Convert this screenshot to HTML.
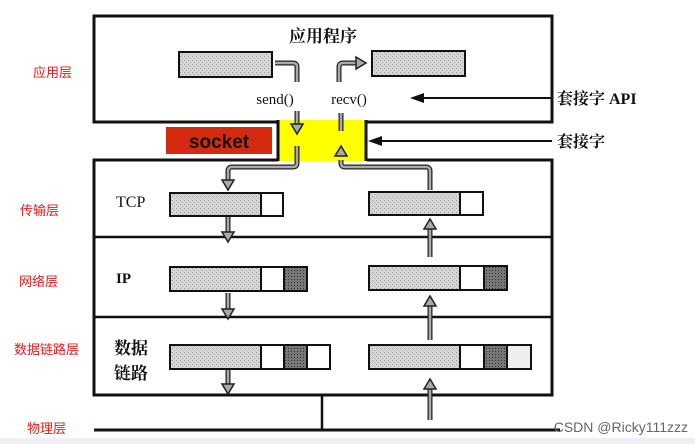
<!DOCTYPE html>
<html><head><meta charset="utf-8"><style>
body{margin:0;width:695px;height:444px;background:#fff;overflow:hidden}
svg{display:block}
.r{font-family:"Liberation Sans","Noto Sans CJK SC",sans-serif;fill:#e02020;font-size:13px}
.b{font-family:"Liberation Serif","Noto Serif CJK SC",serif;fill:#111;font-weight:bold}
</style></head><body>
<svg width="695" height="444" viewBox="0 0 695 444">
<defs>
<pattern id="g" width="4" height="4" patternUnits="userSpaceOnUse"><rect width="4" height="4" fill="#d6d6d6"/><rect width="1" height="1" fill="#999"/><rect x="2" y="2" width="1" height="1" fill="#aaa"/></pattern>
<pattern id="d" width="3" height="3" patternUnits="userSpaceOnUse"><rect width="3" height="3" fill="#777"/><rect width="1" height="1" fill="#333"/></pattern>
</defs>
<rect x="0" y="438" width="695" height="6" fill="#eef0f6"/>
<rect x="278" y="120" width="88" height="41" fill="#ffff00"/>
<path d="M278 122 H94 V16 H552 V122 H367" fill="none" stroke="#111" stroke-width="3"/>
<path d="M278 160 H94 V395 H552 V160 H367" fill="none" stroke="#111" stroke-width="3"/>
<line x1="278" y1="120" x2="278" y2="161" stroke="#111" stroke-width="3"/>
<line x1="366" y1="120" x2="366" y2="161" stroke="#111" stroke-width="3"/>
<line x1="94" y1="237" x2="552" y2="237" stroke="#111" stroke-width="2.5"/>
<line x1="94" y1="317" x2="552" y2="317" stroke="#111" stroke-width="2.5"/>
<line x1="94" y1="430" x2="560" y2="430" stroke="#111" stroke-width="3"/>
<line x1="322" y1="395" x2="322" y2="430" stroke="#111" stroke-width="2.5"/>
<rect x="166" y="127" width="106" height="27" fill="#d42a10"/>
<text x="219" y="148" text-anchor="middle" font-family="Liberation Sans,sans-serif" font-weight="bold" font-size="19" fill="#111">socket</text>
<g stroke="#111" stroke-width="2">
<rect x="179" y="52" width="93" height="25" fill="url(#g)"/>
<rect x="372" y="51" width="93" height="25" fill="url(#g)"/>
<rect x="170" y="193" width="91" height="23" fill="url(#g)"/><rect x="261" y="193" width="22" height="23" fill="#fff"/>
<rect x="369" y="192" width="91" height="23" fill="url(#g)"/><rect x="460" y="192" width="23" height="23" fill="#fff"/>
<rect x="170" y="267" width="91" height="24" fill="url(#g)"/><rect x="261" y="267" width="23" height="24" fill="#fff"/><rect x="284" y="267" width="23" height="24" fill="url(#d)"/>
<rect x="369" y="266" width="91" height="24" fill="url(#g)"/><rect x="460" y="266" width="24" height="24" fill="#fff"/><rect x="484" y="266" width="23" height="24" fill="url(#d)"/>
<rect x="170" y="345" width="91" height="24" fill="url(#g)"/><rect x="261" y="345" width="23" height="24" fill="#fff"/><rect x="284" y="345" width="23" height="24" fill="url(#d)"/><rect x="307" y="345" width="23" height="24" fill="#fff"/>
<rect x="369" y="345" width="91" height="24" fill="url(#g)"/><rect x="460" y="345" width="24" height="24" fill="#fff"/><rect x="484" y="345" width="23" height="24" fill="url(#d)"/><rect x="507" y="345" width="24" height="24" fill="#eee"/>
</g>
<g fill="none" stroke-linejoin="round">
<g stroke="#222" stroke-width="5">
<path d="M275 63 H293 Q297 63 297 67 V82"/><path d="M297 111 V125"/><path d="M297 146 V163 Q297 167 293 167 H232 Q228 167 228 171 V180"/>
<path d="M228 217 V232"/><path d="M228 293 V310"/><path d="M228 370 V385"/>
<path d="M339 82 V67 Q339 63 343 63 H356"/><path d="M341 113 V131"/><path d="M341 160 V163 Q341 167 345 167 H426 Q430 167 430 171 V190"/>
<path d="M430 257 V228"/><path d="M430 340 V305"/><path d="M430 420 V388"/>
</g>
<g stroke="#aaa" stroke-width="2.5">
<path d="M275 63 H293 Q297 63 297 67 V82"/><path d="M297 111 V125"/><path d="M297 146 V163 Q297 167 293 167 H232 Q228 167 228 171 V180"/>
<path d="M228 217 V232"/><path d="M228 293 V310"/><path d="M228 370 V385"/>
<path d="M339 82 V67 Q339 63 343 63 H356"/><path d="M341 113 V131"/><path d="M341 160 V163 Q341 167 345 167 H426 Q430 167 430 171 V190"/>
<path d="M430 257 V228"/><path d="M430 340 V305"/><path d="M430 420 V388"/>
</g>
</g>
<g fill="#aaa" stroke="#222" stroke-width="1.5">
<polygon points="291,124 303,124 297,134"/><polygon points="222,180 234,180 228,190"/><polygon points="222,232 234,232 228,242"/><polygon points="222,309 234,309 228,319"/><polygon points="222,384 234,384 228,394"/>
<polygon points="356,57 366,63 356,69"/><polygon points="335,156 347,156 341,146"/>
<polygon points="424,229 436,229 430,219"/><polygon points="424,306 436,306 430,296"/><polygon points="424,389 436,389 430,379"/>
</g>
<line x1="420" y1="98" x2="552" y2="98" stroke="#111" stroke-width="2"/><polygon points="410,98 424,93 424,103" fill="#111"/>
<line x1="378" y1="141" x2="552" y2="141" stroke="#111" stroke-width="2"/><polygon points="368,141 382,136 382,146" fill="#111"/>
<text class="b" x="323" y="42" text-anchor="middle" font-size="17">应用程序</text>
<text class="b" x="275" y="104" text-anchor="middle" font-size="15" style="font-weight:normal">send()</text>
<text class="b" x="349" y="104" text-anchor="middle" font-size="15" style="font-weight:normal">recv()</text>
<text class="b" x="116" y="207" font-size="16" style="font-weight:normal">TCP</text>
<text class="b" x="116" y="283" font-size="15">IP</text>
<text class="b" x="114" y="354" font-size="17">数据</text>
<text class="b" x="114" y="379" font-size="17">链路</text>
<text class="b" x="557" y="104" font-size="16">套接字 API</text>
<text class="b" x="557" y="147" font-size="16">套接字</text>
<text class="r" x="33" y="77">应用层</text>
<text class="r" x="20" y="215">传输层</text>
<text class="r" x="19" y="286">网络层</text>
<text class="r" x="14" y="354">数据链路层</text>
<text class="r" x="27" y="433">物理层</text>
<text x="688" y="432" text-anchor="end" font-family="Liberation Sans,sans-serif" font-size="14" fill="#666">CSDN @Ricky111zzz</text>
</svg>
</body></html>
